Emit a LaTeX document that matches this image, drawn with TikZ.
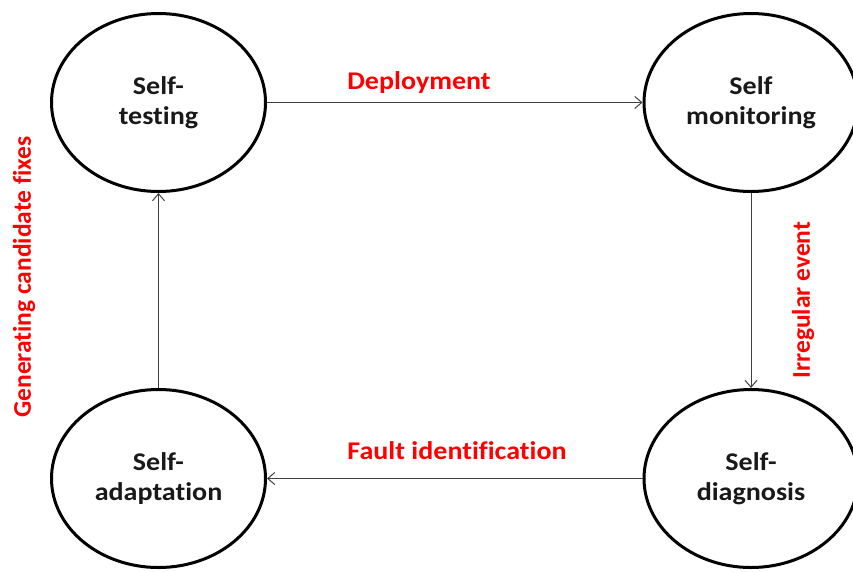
\documentclass[tikz,border=0pt]{standalone}
\usepackage{fontspec}
\setmainfont{Carlito}[FakeStretch=1.1,RawFeature={-liga;-clig}]
\newfontfamily\vlblfont{Carlito}[RawFeature={-liga;-clig}]
\usetikzlibrary{shapes.geometric,arrows.meta}
\begin{document}
\begin{tikzpicture}[x=1pt,y=-1pt,
  state/.style={ellipse,draw=black,line width=3pt,minimum width=214pt,minimum height=178pt,inner sep=0pt,
    font=\fontsize{25.5}{30}\selectfont\bfseries,align=center,text=black!90},
  conn/.style={draw=black!75,line width=1pt,-{Straight Barb[length=7pt,width=12pt,line width=1pt]}},
  lbl/.style={text=red,font=\fontsize{25.5}{28}\selectfont\bfseries,inner sep=0pt},
  vlbl/.style={text=red,font=\fontsize{25.5}{28}\selectfont\vlblfont\bfseries,inner sep=0pt,rotate=90}]
\useasboundingbox (0,0) rectangle (853,571);
\node[state] (st) at (158.5,102.5) {Self-\\testing};
\node[state] (sm) at (751,102.5) {Self\\monitoring};
\node[state] (sa) at (158.5,478.5) {Self-\\adaptation};
\node[state] (sd) at (751,478.5) {Self-\\diagnosis};
\draw[conn] (st.east) -- (sm.west);
\draw[conn] (sm.south) -- (sd.north);
\draw[conn] (sd.west) -- (sa.east);
\draw[conn] (sa.north) -- (st.south);
\node[lbl] (l1) at (419,83) {Deployment};
\node[lbl] (l2) at (457,451) {Fault identification};
\node[vlbl] (l3) at (24,277) {Generating candidate fixes};
\node[vlbl] (l4) at (803,300) {Irregular event};
\end{tikzpicture}
\end{document}
